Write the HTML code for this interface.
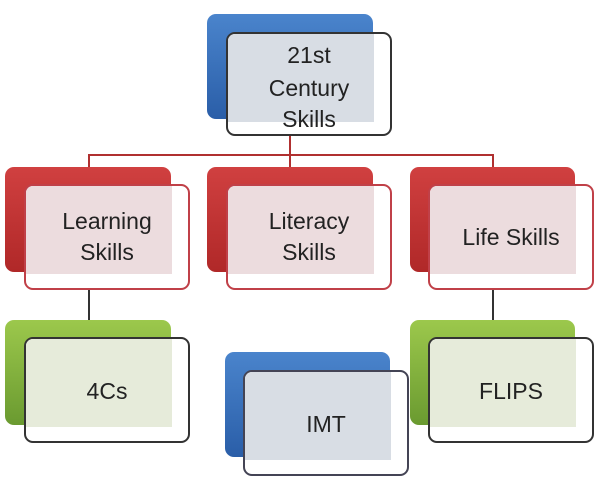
<!DOCTYPE html><html><head><style>
body{margin:0;width:614px;height:500px;background:#fff;position:relative;overflow:hidden;font-family:"Liberation Sans",sans-serif}
.b{position:absolute;border-radius:9px}
.f{position:absolute;border-radius:9px;background:#fff;border:2px solid #333;box-sizing:border-box;overflow:hidden}
.f .t{position:absolute;left:0;top:0;width:146px;height:88px}
.f span{position:absolute;left:0;right:0;text-align:center;font-size:23px;color:#222;line-height:30px}
.l{position:absolute}
</style></head><body>
<div class="l" style="left:289px;top:136px;width:2px;height:20px;background:#b03030"></div>
<div class="l" style="left:88px;top:154px;width:406px;height:2px;background:#b03030"></div>
<div class="l" style="left:88px;top:154px;width:2px;height:14px;background:#b03030"></div>
<div class="l" style="left:289px;top:154px;width:2px;height:14px;background:#b03030"></div>
<div class="l" style="left:492px;top:154px;width:2px;height:14px;background:#b03030"></div>
<div class="l" style="left:88px;top:290px;width:2px;height:32px;background:#333"></div>
<div class="l" style="left:492px;top:290px;width:2px;height:32px;background:#333"></div>

<div class="b" style="left:207px;top:14px;width:166px;height:105px;background:linear-gradient(#4a84cc,#2a5ea8)"></div>
<div class="f" style="left:226px;top:32px;width:166px;height:104px;border-color:#333"><div class="t" style="background:#d8dde4"></div><span style="top:6px">21st</span><span style="top:39px">Century</span><span style="top:70px">Skills</span></div>

<div class="b" style="left:5px;top:167px;width:166px;height:105px;background:linear-gradient(#d04040,#b02828)"></div>
<div class="f" style="left:24px;top:184px;width:166px;height:106px;border-color:#c04048"><div class="t" style="background:#ecdcde"></div><span style="top:20px">Learning</span><span style="top:51px">Skills</span></div>
<div class="b" style="left:207px;top:167px;width:166px;height:105px;background:linear-gradient(#d04040,#b02828)"></div>
<div class="f" style="left:226px;top:184px;width:166px;height:106px;border-color:#c04048"><div class="t" style="background:#ecdcde"></div><span style="top:20px">Literacy</span><span style="top:51px">Skills</span></div>
<div class="b" style="left:410px;top:167px;width:165px;height:105px;background:linear-gradient(#d04040,#b02828)"></div>
<div class="f" style="left:428px;top:184px;width:166px;height:106px;border-color:#c04048"><div class="t" style="background:#ecdcde"></div><span style="top:36px">Life Skills</span></div>

<div class="b" style="left:5px;top:320px;width:166px;height:105px;background:linear-gradient(#9cc84c,#6a9a30)"></div>
<div class="f" style="left:24px;top:337px;width:166px;height:106px"><div class="t" style="background:#e6ebda"></div><span style="top:37px">4Cs</span></div>
<div class="b" style="left:410px;top:320px;width:165px;height:105px;background:linear-gradient(#9cc84c,#6a9a30)"></div>
<div class="f" style="left:428px;top:337px;width:166px;height:106px"><div class="t" style="background:#e6ebda"></div><span style="top:37px">FLIPS</span></div>

<div class="b" style="left:225px;top:352px;width:165px;height:105px;background:linear-gradient(#4a84cc,#2a5ea8)"></div>
<div class="f" style="left:243px;top:370px;width:166px;height:106px;border-color:#445"><div class="t" style="background:#d8dde4"></div><span style="top:37px">IMT</span></div>
</body></html>
